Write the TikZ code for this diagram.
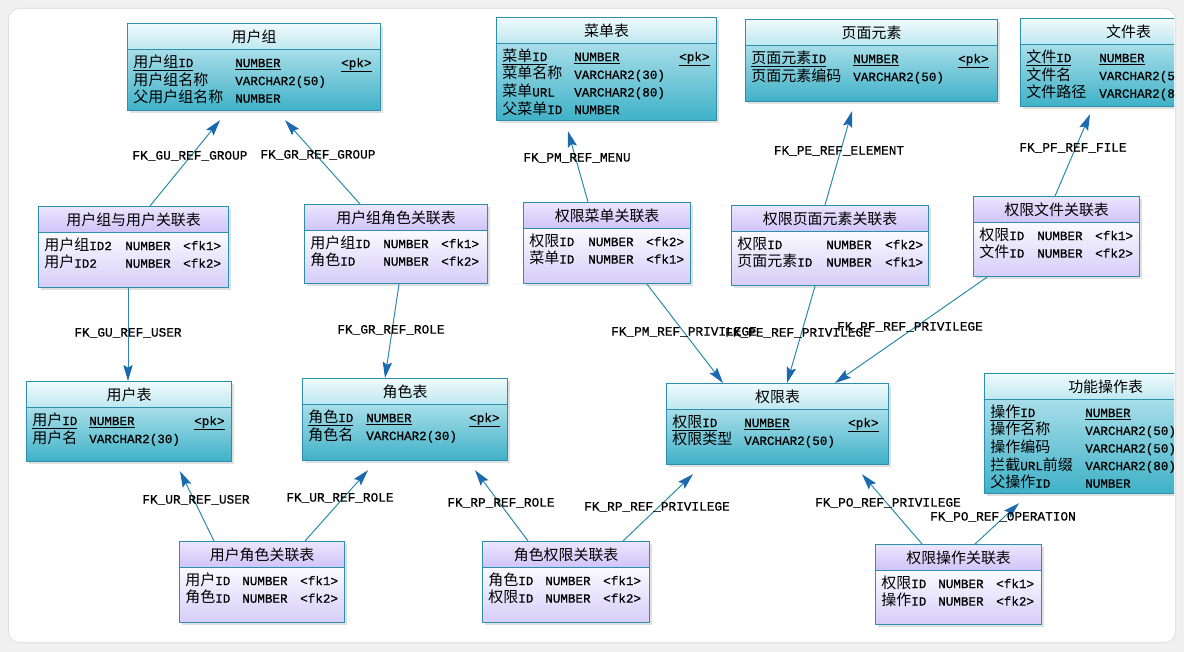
\documentclass[tikz,border=0pt]{standalone}
\usepackage{fontspec}
\usepackage{array}
\setmainfont{Noto Sans CJK SC}
\setmonofont{Liberation Mono}[Scale=0.84,FakeBold=0.7]
\usetikzlibrary{arrows.meta,positioning}
\definecolor{tbledge}{HTML}{2C8FAD}
\definecolor{entA}{HTML}{F0FAFC}
\definecolor{entB}{HTML}{BDE8F0}
\definecolor{entC}{HTML}{A8DEE9}
\definecolor{entD}{HTML}{3FB1C7}
\definecolor{lnkA}{HTML}{EBE6FF}
\definecolor{lnkB}{HTML}{CEC4F7}
\definecolor{lnkC}{HTML}{FBFAFF}
\definecolor{lnkD}{HTML}{D5CDF8}
\definecolor{fkline}{HTML}{2A8CA8}
\definecolor{fkblue}{HTML}{1B6AB0}
\begin{document}
\begin{tikzpicture}[x=0.75pt,y=-0.75pt,line join=round,line cap=round]
		\tikzset{
			enthead/.style={draw=tbledge,line width=0.9pt,top color=entA,bottom color=entB,inner sep=0,font=\fontsize{11.2pt}{13pt}\selectfont},
			entbody/.style={top color=entC,bottom color=entD,inner sep=0},
			lnkhead/.style={draw=tbledge,line width=0.9pt,top color=lnkA,bottom color=lnkB,inner sep=0,font=\fontsize{11.2pt}{13pt}\selectfont},
			lnkbody/.style={top color=lnkC,bottom color=lnkD,inner sep=0},
			tblbox/.style={draw=tbledge,line width=0.9pt,inner sep=0},
			shadowbox/.style={fill=black!12},
			rowtxt/.style={anchor=north west,inner sep=0,font=\fontsize{11.25pt}{12.3pt}\selectfont},
			fk/.style={draw=fkline,line width=0.75pt,-{Stealth[length=12pt,width=7pt,inset=2pt,color=fkblue]}},
			fkname/.style={font=\ttfamily\fontsize{11.4pt}{13pt}\selectfont,inner sep=1pt}
		}
		% one table: name, style, x, y, width, height, title
		\def\tbl#1#2#3#4#5#6#7{
			\fill[shadowbox] (#3+3,#4+3) rectangle ++(#5,#6);
			\node[#2body,minimum width=#5*0.75pt,minimum height=(#6-26)*0.75pt,anchor=north west] (#1-b) at (#3,#4+26) {};
			\node[#2head,minimum width=#5*0.75pt,minimum height=19.5pt,anchor=north west] (#1-h) at (#3,#4) {#7};
			\node[tblbox,minimum width=#5*0.75pt,minimum height=#6*0.75pt,anchor=north west] (#1) at (#3,#4) {};
		}
		% the columns of a table
		\def\rows#1#2#3#4{
			\node[rowtxt] (#1-r) at ([shift={(6,4)}]#1-h.south west)
			{\begin{tabular}{@{}p{\dimexpr#2pt*3/4\relax}@{}>{\ttfamily}p{\dimexpr#3pt*3/4\relax}@{}>{\ttfamily}l@{}}#4\end{tabular}};
		}
		\def\en#1{{\ttfamily #1}}
		\useasboundingbox (0,0) rectangle (1184,652);
		\fill[black!6] (0,0) rectangle (1184,652);
		\fill[black!12,rounded corners=9] (8,8) rectangle (1176,643);
		\fill[white,rounded corners=8] (9,9) rectangle (1175,642);
		\begin{scope}
		\clip (9,9) rectangle (1174,642);
		% entities
		\tbl{ug}{ent}{127}{23}{253}{87}{用户组}
		\rows{ug}{102}{106}{\underline{用户组\en{ID}} & \underline{NUMBER} & \underline{<pk>}\\ 用户组名称 & VARCHAR2(50) & \\ 父用户组名称 & NUMBER & }
		\tbl{menu}{ent}{496}{17}{220}{103}{菜单表}
		\rows{menu}{72}{105}{\underline{菜单\en{ID}} & \underline{NUMBER} & \underline{<pk>}\\ 菜单名称 & VARCHAR2(30) & \\ 菜单\en{URL} & VARCHAR2(80) & \\ 父菜单\en{ID} & NUMBER & }
		\tbl{elem}{ent}{745}{19}{252}{82}{页面元素}
		\rows{elem}{102}{105}{\underline{页面元素\en{ID}} & \underline{NUMBER} & \underline{<pk>}\\ 页面元素编码 & VARCHAR2(50) & }
		\tbl{file}{ent}{1020}{18}{216}{88}{文件表}
		\rows{file}{73}{105}{\underline{文件\en{ID}} & \underline{NUMBER} & \underline{<pk>}\\ 文件名 & VARCHAR2(50) & \\ 文件路径 & VARCHAR2(80) & }
		\tbl{user}{ent}{26}{381}{205}{80}{用户表}
		\rows{user}{57}{105}{\underline{用户\en{ID}} & \underline{NUMBER} & \underline{<pk>}\\ 用户名 & VARCHAR2(30) & }
		\tbl{role}{ent}{302}{378}{205}{82}{角色表}
		\rows{role}{58}{103}{\underline{角色\en{ID}} & \underline{NUMBER} & \underline{<pk>}\\ 角色名 & VARCHAR2(30) & }
		\tbl{priv}{ent}{666}{383}{222}{81}{权限表}
		\rows{priv}{72}{104}{\underline{权限\en{ID}} & \underline{NUMBER} & \underline{<pk>}\\ 权限类型 & VARCHAR2(50) & }
		\tbl{oper}{ent}{984}{373}{242}{120}{功能操作表}
		\rows{oper}{95}{105}{\underline{操作\en{ID}} & \underline{NUMBER} & \underline{<pk>}\\ 操作名称 & VARCHAR2(50) & \\ 操作编码 & VARCHAR2(50) & \\ 拦截\en{URL}前缀 & VARCHAR2(80) & \\ 父操作\en{ID} & NUMBER & }
		% link tables
		\tbl{ugu}{lnk}{38}{206}{190}{81}{用户组与用户关联表}
		\rows{ugu}{81}{58}{用户组\en{ID2} & NUMBER & <fk1>\\ 用户\en{ID2} & NUMBER & <fk2>}
		\tbl{ugr}{lnk}{304}{204}{183}{79}{用户组角色关联表}
		\rows{ugr}{73}{58}{用户组\en{ID} & NUMBER & <fk1>\\ 角色\en{ID} & NUMBER & <fk2>}
		\tbl{pm}{lnk}{523}{202}{167}{81}{权限菜单关联表}
		\rows{pm}{59}{58}{权限\en{ID} & NUMBER & <fk2>\\ 菜单\en{ID} & NUMBER & <fk1>}
		\tbl{pe}{lnk}{731}{205}{197}{80}{权限页面元素关联表}
		\rows{pe}{89}{59}{权限\en{ID} & NUMBER & <fk2>\\ 页面元素\en{ID} & NUMBER & <fk1>}
		\tbl{pf}{lnk}{973}{196}{166}{80}{权限文件关联表}
		\rows{pf}{58}{58}{权限\en{ID} & NUMBER & <fk1>\\ 文件\en{ID} & NUMBER & <fk2>}
		\tbl{ur}{lnk}{179}{541}{165}{81}{用户角色关联表}
		\rows{ur}{57}{58}{用户\en{ID} & NUMBER & <fk1>\\ 角色\en{ID} & NUMBER & <fk2>}
		\tbl{rp}{lnk}{482}{541}{167}{81}{角色权限关联表}
		\rows{rp}{57}{58}{角色\en{ID} & NUMBER & <fk1>\\ 权限\en{ID} & NUMBER & <fk2>}
		\tbl{po}{lnk}{875}{544}{166}{80}{权限操作关联表}
		\rows{po}{57}{58}{权限\en{ID} & NUMBER & <fk1>\\ 操作\en{ID} & NUMBER & <fk2>}
		% references
		\draw[fk] ([shift={(112,0)}]ugu.north west) -- ([shift={(93,9)}]ug.south west);
		\draw[fk] ([shift={(56,0)}]ugr.north west) -- ([shift={(158,9)}]ug.south west);
		\draw[fk] ([shift={(90,0)}]ugu.south west) -- ([shift={(102,0)}]user.north west);
		\draw[fk] ([shift={(95,0)}]ugr.south west) -- ([shift={(83,0)}]role.north west);
		\draw[fk] ([shift={(65,0)}]pm.north west) -- ([shift={(72,10)}]menu.south west);
		\draw[fk] ([shift={(94,0)}]pe.north west) -- ([shift={(107,9)}]elem.south west);
		\draw[fk] ([shift={(82,0)}]pf.north west) -- ([shift={(70,7)}]file.south west);
		\draw[fk] ([shift={(124,0)}]pm.south west) -- ([shift={(57,0)}]priv.north west);
		\draw[fk] ([shift={(84,0)}]pe.south west) -- ([shift={(121,0)}]priv.north west);
		\draw[fk] ([shift={(14,0)}]pf.south west) -- ([shift={(169,0)}]priv.north west);
		\draw[fk] ([shift={(35,0)}]ur.north west) -- ([shift={(154,9)}]user.south west);
		\draw[fk] ([shift={(126,0)}]ur.north west) -- ([shift={(66,9)}]role.south west);
		\draw[fk] ([shift={(46,0)}]rp.north west) -- ([shift={(173,9)}]role.south west);
		\draw[fk] ([shift={(141,0)}]rp.north west) -- ([shift={(27,9)}]priv.south west);
		\draw[fk] ([shift={(47,0)}]po.north west) -- ([shift={(196,9)}]priv.south west);
		\draw[fk] ([shift={(100,0)}]po.north west) -- ([shift={(35,9)}]oper.south west);
		% reference names
		\node[fkname] (n-gu-grp) at (190,156) {FK\_GU\_REF\_GROUP};
		\node[fkname] (n-gr-grp) at (318,155) {FK\_GR\_REF\_GROUP};
		\node[fkname] (n-gu-usr) at (128,333) {FK\_GU\_REF\_USER};
		\node[fkname] (n-gr-rol) at (391,330) {FK\_GR\_REF\_ROLE};
		\node[fkname] (n-pm-men) at (577,158) {FK\_PM\_REF\_MENU};
		\node[fkname] (n-pe-ele) at (839,151) {FK\_PE\_REF\_ELEMENT};
		\node[fkname] (n-pf-fil) at (1073,148) {FK\_PF\_REF\_FILE};
		\node[fkname] (n-pm-pri) at (684,332) {FK\_PM\_REF\_PRIVILEGE};
		\node[fkname] (n-pe-pri) at (798,333) {FK\_PE\_REF\_PRIVILEGE};
		\node[fkname] (n-pf-pri) at (910,327) {FK\_PF\_REF\_PRIVILEGE};
		\node[fkname] (n-ur-usr) at (196,500) {FK\_UR\_REF\_USER};
		\node[fkname] (n-ur-rol) at (340,498) {FK\_UR\_REF\_ROLE};
		\node[fkname] (n-rp-rol) at (501,503) {FK\_RP\_REF\_ROLE};
		\node[fkname] (n-rp-pri) at (657,507) {FK\_RP\_REF\_PRIVILEGE};
		\node[fkname] (n-po-pri) at (888,503) {FK\_PO\_REF\_PRIVILEGE};
		\node[fkname] (n-po-ope) at (1003,517) {FK\_PO\_REF\_OPERATION};
		\end{scope}
\end{tikzpicture}
\end{document}
